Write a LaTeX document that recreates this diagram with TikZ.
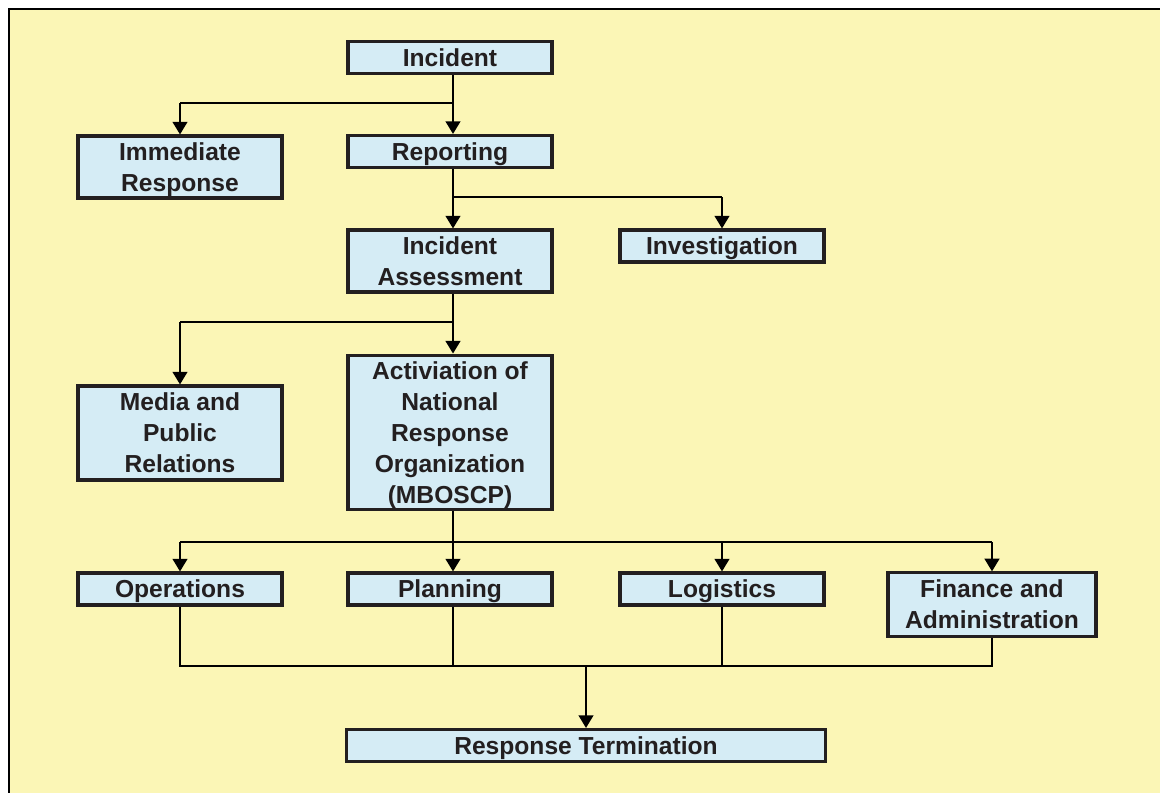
\documentclass[tikz,border=0pt]{standalone}
\usepackage{fontspec}
\setmainfont{Liberation Sans}
\usepackage{tikz}
\usetikzlibrary{positioning,calc,arrows.meta}
\definecolor{bgyellow}{RGB}{251,246,182}
\definecolor{boxblue}{RGB}{213,236,245}
\definecolor{ink}{RGB}{35,31,32}

\begin{document}
\begin{tikzpicture}[x=0.025cm,y=-0.025cm,
                       main node/.style={rectangle,fill=boxblue,draw=ink,line width=2.2pt,
                                         inner sep=0pt,align=center,text=ink,text depth=0pt,
                                         font=\bfseries\fontsize{17.5}{22}\selectfont,
                                         minimum width=5.1cm,minimum height=0.8cm},
                       arr/.style={line width=1.4pt,-{Triangle[width=10.5pt,length=9pt]}},
                       bus/.style={line width=0.9pt}
                           ]
   \useasboundingbox (0,0) rectangle (1160,792);
   \fill[white] (0,0) rectangle (1160,792);
   \draw[fill=bgyellow,line width=2pt] (9,9) rectangle (1175,810);
   % boxes
   \node[main node] (inc) at (450,57.5) {Incident};
   \node[main node,minimum height=1.55cm] (imm) at (180,167) {Immediate\\Response};
   \node[main node] (rep) at (450,151.5) {Reporting};
   \node[main node,minimum height=1.55cm] (ass) at (450,261) {Incident\\Assessment};
   \node[main node] (inv) at (722,246) {Investigation};
   \node[main node,minimum height=2.35cm] (med) at (180,433) {Media and\\Public\\Relations};
   \node[main node,minimum height=3.87cm] (act) at (450,432.5) {Activiation of\\National\\Response\\Organization\\(MBOSCP)};
   \node[main node] (ops) at (180,589) {Operations};
   \node[main node] (pla) at (450,589) {Planning};
   \node[main node] (log) at (722,589) {Logistics};
   \node[main node,minimum width=5.2cm,minimum height=1.58cm] (fin) at (992,604.5) {Finance and\\Administration};
   \node[main node,minimum width=11.95cm] (ter) at (586,745.5) {Response Termination};
   % junctions
   \coordinate (j1) at (453,103);
   \coordinate (j2) at (453,197);
   \coordinate (j3) at (453,322);
   \coordinate (j4) at (453,542);
   \coordinate (j5) at (586,666);
   % connectors
   \draw[arr] (inc.south -| j1) -- (rep.north -| j1);
   \draw[bus] (j1) -- (j1 -| imm);
   \draw[arr] (j1 -| imm) -- (imm);
   \draw[arr] (rep.south -| j2) -- (ass.north -| j2);
   \draw[bus] (j2) -- (j2 -| inv);
   \draw[arr] (j2 -| inv) -- (inv);
   \draw[arr] (ass.south -| j3) -- (act.north -| j3);
   \draw[bus] (j3) -- (j3 -| med);
   \draw[arr] (j3 -| med) -- (med);
   \draw[line width=1.4pt] (act.south -| j4) -- (j4);
   \draw[bus] (j4 -| ops) -- (j4 -| fin);
   \draw[arr] (j4 -| ops) -- (ops);
   \draw[arr] (j4) -- (pla.north -| j4);
   \draw[arr] (j4 -| log) -- (log);
   \draw[arr] (j4 -| fin) -- (fin);
   \draw[bus] (ops.south) |- (j5 -| fin) -- (fin.south);
   \draw[bus] (pla.south -| j4) -- (j5 -| j4);
   \draw[bus] (log.south) -- (j5 -| log);
   \draw[arr] (j5) -- (ter);
\end{tikzpicture}
\end{document}
